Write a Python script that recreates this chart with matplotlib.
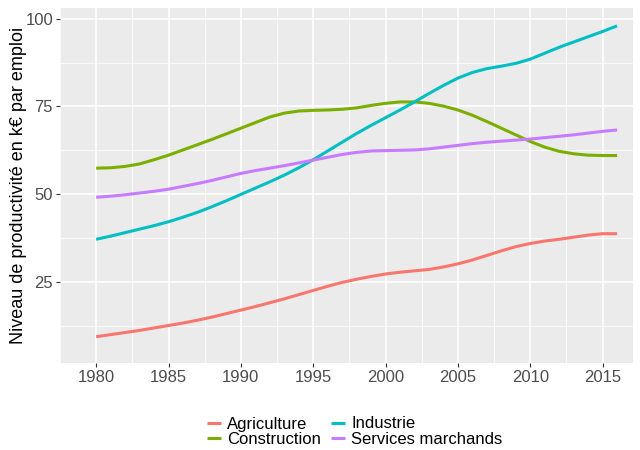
import matplotlib
matplotlib.use("Agg")
import matplotlib.pyplot as plt

plt.rcParams['font.family'] = ['Liberation Sans', 'DejaVu Sans']

years = list(range(1980, 2017))

agriculture = [9.3, 9.9, 10.5, 11.1, 11.8, 12.5, 13.2, 14.0, 14.9, 15.9,
               16.9, 17.9, 19.0, 20.1, 21.3, 22.5, 23.7, 24.8, 25.7, 26.5,
               27.2, 27.7, 28.1, 28.5, 29.2, 30.1, 31.2, 32.5, 33.8, 35.0,
               35.9, 36.6, 37.1, 37.7, 38.3, 38.7, 38.7]

construction = [57.4, 57.5, 57.9, 58.6, 59.8, 61.1, 62.6, 64.1, 65.6, 67.2,
                68.8, 70.4, 72.0, 73.1, 73.7, 73.9, 74.0, 74.2, 74.6, 75.3,
                75.9, 76.3, 76.3, 75.9, 75.1, 74.0, 72.5, 70.7, 68.8, 66.9,
                65.0, 63.4, 62.2, 61.5, 61.1, 61.0, 61.0]

industrie = [37.1, 38.0, 39.0, 40.0, 41.0, 42.1, 43.4, 44.8, 46.4, 48.1,
             49.9, 51.7, 53.5, 55.4, 57.5, 59.8, 62.3, 64.8, 67.3, 69.6,
             71.8, 74.0, 76.3, 78.7, 81.0, 83.1, 84.7, 85.8, 86.5, 87.3,
             88.5, 90.2, 91.9, 93.4, 94.9, 96.4, 98.0]

services = [49.1, 49.4, 49.8, 50.3, 50.8, 51.4, 52.2, 53.0, 53.9, 54.9,
            55.9, 56.7, 57.4, 58.1, 58.9, 59.7, 60.5, 61.3, 61.9, 62.3,
            62.4, 62.5, 62.6, 62.9, 63.4, 63.9, 64.4, 64.8, 65.1, 65.4,
            65.7, 66.1, 66.5, 66.9, 67.4, 67.9, 68.3]

series_names = ["Agriculture", "Construction", "Industrie", "Services marchands"]
series_values = [agriculture, construction, industrie, services]
colors = ["#F8766D", "#7CAE00", "#00BFC4", "#C77CFF"]

x_ticks = [1980, 1985, 1990, 1995, 2000, 2005, 2010, 2015]
y_ticks = [25, 50, 75, 100]

W, H = 640, 450
fig = plt.figure(figsize=(W / 100, H / 100), dpi=100)
left, right, top, bottom = 60, 633, 8, 363
ax = fig.add_axes([left / W, 1 - bottom / H, (right - left) / W, (bottom - top) / H])
ax.set_facecolor("#EBEBEB")

for name, vals, c in zip(series_names, series_values, colors):
    ax.plot(years, vals, color=c, lw=2.2, label=name, solid_capstyle='butt')

ax.set_xlim(1978.16, 2017.1)
ax.set_ylim(1.8, 103.1)
ax.set_xticks(x_ticks)
ax.set_yticks(y_ticks)
ax.set_xticks([t + 2.5 for t in x_ticks[:-1]] + [1977.5], minor=True)
ax.set_yticks([12.5, 37.5, 62.5, 87.5], minor=True)
ax.grid(which='major', color='white', lw=1.2)
ax.grid(which='minor', color='white', lw=0.6)
ax.set_axisbelow(True)
for s in ax.spines.values():
    s.set_visible(False)
ax.tick_params(which='major', length=3, width=0.8, color='#333333',
               labelcolor='#4D4D4D', labelsize=12, pad=2)
ax.tick_params(which='minor', length=0)

ax.set_ylabel("Niveau de productivité en k€ par emploi", fontsize=13, color='black')
ax.yaxis.set_label_coords(27 / W, 0.5, transform=fig.transFigure)
ax.yaxis.label.set_y(1 - 185 / H)

handles, labels = ax.get_legend_handles_labels()
leg = fig.legend(handles, labels, ncol=2, loc='center',
                 bbox_to_anchor=(355 / W, 1 - 431.5 / H),
                 frameon=False, fontsize=12, handlelength=0.8,
                 handletextpad=0.4, labelspacing=0.0, columnspacing=0.6,
                 borderpad=0)

fig.savefig("out.png", dpi=100)
